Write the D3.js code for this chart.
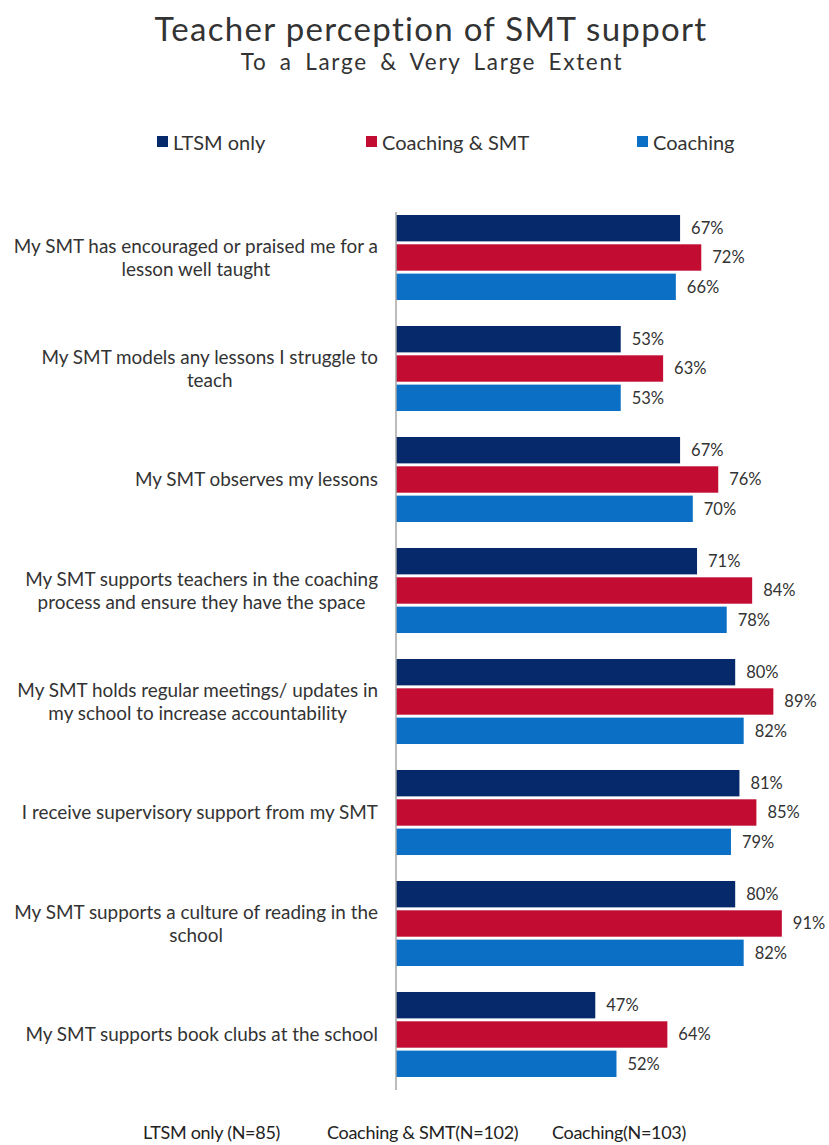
<!DOCTYPE html>
<html>
<head>
<meta charset="utf-8">
<script src="https://cdn.jsdelivr.net/npm/d3@7"></script>
<style>
  html, body { margin: 0; padding: 0; background: #fff; }
  svg { display: block; font-family: Lato, "Open Sans", sans-serif; }
</style>
</head>
<body>
<svg id="chart" width="829" height="1145"></svg>
<script>
// Survey statements (two-line labels split with "|")
const categories = [
  "My SMT has encouraged or praised me for a|lesson well taught",
  "My SMT models any lessons I struggle to|teach",
  "My SMT observes my lessons",
  "My SMT supports teachers in the coaching|process and ensure they have the space",
  "My SMT holds regular meetings/ updates in|my school to increase accountability",
  "I receive supervisory support from my SMT",
  "My SMT supports a culture of reading in the|school",
  "My SMT supports book clubs at the school"
];
const seriesNames = ["LTSM only", "Coaching & SMT", "Coaching"];
const ltsmOnly     = [67, 53, 67, 71, 80, 81, 80, 47];
const coachingSmt  = [72, 63, 76, 84, 89, 85, 91, 64];
const coachingOnly = [66, 53, 70, 78, 82, 79, 82, 52];
const sampleNotes  = ["LTSM only (N=85)", "Coaching & SMT(N=102)", "Coaching(N=103)"];
const colors = ["#05296b", "#c20c31", "#0a6fc5"];

const values = [ltsmOnly, coachingSmt, coachingOnly];
const rows = categories.map((c, i) => ({ cat: c, vals: values.map(v => v[i]) }));

const svg = d3.select("#chart");
const textColor = "#333";

// Title
svg.append("text").attr("x", 431).attr("y", 41).attr("text-anchor", "middle")
  .attr("font-size", 33).attr("letter-spacing", 1.3).attr("fill", textColor)
  .text("Teacher perception of SMT support");
svg.append("text").attr("x", 432).attr("y", 70).attr("text-anchor", "middle")
  .attr("font-size", 22.5).attr("letter-spacing", 1.7).attr("word-spacing", 5)
  .attr("fill", textColor)
  .text("To a Large & Very Large Extent");

// Legend
const legendX = [157, 366, 637];
const legend = svg.append("g");
seriesNames.forEach((s, i) => {
  legend.append("rect").attr("x", legendX[i]).attr("y", 136)
    .attr("width", 11).attr("height", 11).attr("fill", colors[i]);
  legend.append("text").attr("x", legendX[i] + 16).attr("y", 150)
    .attr("font-size", 20).attr("fill", textColor).text(s);
});

// Scales
const x = d3.scaleLinear().domain([0, 100]).range([396, 820]);
const y0 = d3.scaleBand().domain(categories).range([202, 1090])
  .paddingInner(0.234).paddingOuter(0.117);
const y1 = d3.scaleBand().domain(seriesNames).range([0, y0.bandwidth()])
  .paddingInner(0.1);

// Bars
const groups = svg.append("g").selectAll("g").data(rows).join("g")
  .attr("transform", d => `translate(0,${y0(d.cat)})`);

groups.selectAll("rect").data(d => d.vals.map((v, i) => ({ v, s: seriesNames[i], i })))
  .join("rect")
  .attr("x", x(0))
  .attr("y", d => y1(d.s))
  .attr("width", d => x(d.v) - x(0))
  .attr("height", y1.bandwidth())
  .attr("fill", d => colors[d.i]);

groups.selectAll("text.val").data(d => d.vals.map((v, i) => ({ v, s: seriesNames[i] })))
  .join("text").attr("class", "val")
  .attr("x", d => x(d.v) + 11)
  .attr("y", d => y1(d.s) + y1.bandwidth() / 2)
  .attr("dy", "0.36em")
  .attr("font-size", 16.5).attr("fill", textColor)
  .text(d => d.v + "%");

// Category labels: lines centred within a block whose right edge sits by the axis
const labelRight = 378;
const catLabels = svg.append("g");
rows.forEach(d => {
  const lines = d.cat.split("|");
  const cy = y0(d.cat) + y0.bandwidth() / 2;
  const lh = 23;
  const t = catLabels.append("text").attr("text-anchor", "middle")
    .attr("font-size", 18.9).attr("fill", textColor);
  const spans = lines.map((ln, k) => t.append("tspan")
    .attr("y", cy + (k - (lines.length - 1) / 2) * lh)
    .attr("dy", "0.35em").text(ln));
  const w = d3.max(spans, s => s.node().getComputedTextLength());
  spans.forEach(s => s.attr("x", labelRight - w / 2));
});

// Vertical category axis line
svg.append("line").attr("x1", x(0)).attr("x2", x(0))
  .attr("y1", y0.range()[0] + 10).attr("y2", y0.range()[1])
  .attr("stroke", "#a6a6a6").attr("stroke-width", 1.5);

// Sample sizes
const noteX = [143, 327, 552];
sampleNotes.forEach((s, i) => {
  svg.append("text").attr("x", noteX[i]).attr("y", 1139)
    .attr("font-size", 18).attr("letter-spacing", -0.3).attr("fill", "#222").text(s);
});
</script>
</body>
</html>
